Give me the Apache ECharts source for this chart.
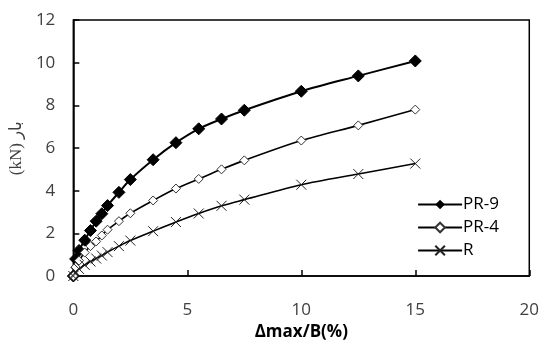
<!DOCTYPE html>
<html>
<head>
<meta charset="utf-8">
<script src="https://cdn.jsdelivr.net/npm/echarts@6/dist/echarts.min.js"></script>
<style>html,body{margin:0;padding:0;background:#fff;}#c{width:542px;height:347px;}</style>
</head>
<body>
<div id="c"></div>
<script>
var xValues = [0, 0.1, 0.25, 0.5, 0.75, 1, 1.25, 1.5, 2, 2.5, 3.5, 4.5, 5.5, 6.5, 7.5, 10, 12.5, 15];
var pr9 = [0, 0.8, 1.2, 1.68, 2.13, 2.57, 2.92, 3.3, 3.92, 4.52, 5.45, 6.25, 6.9, 7.36, 7.77, 8.66, 9.38, 10.08];
var pr4 = [0, 0.42, 0.72, 1.1, 1.4, 1.62, 1.9, 2.17, 2.57, 2.94, 3.54, 4.1, 4.55, 5.0, 5.42, 6.35, 7.06, 7.8];
var rr  = [0, 0.18, 0.33, 0.52, 0.68, 0.82, 0.96, 1.12, 1.4, 1.66, 2.1, 2.53, 2.93, 3.29, 3.58, 4.28, 4.78, 5.27];
var seriesNames = ['PR-9', 'PR-4', 'R'];
var xTicks = [0, 5, 10, 15, 20];
var yTicks = [0, 2, 4, 6, 8, 10, 12];

function pairs(ys) { return xValues.map(function (x, i) { return [x, ys[i]]; }); }

var chart = echarts.init(document.getElementById('c'), null, {renderer: 'canvas'});
var labelFont = {fontFamily: 'Open Sans', fontSize: 17, color: '#404040'};
chart.setOption({
  animation: false,
  grid: {left: 67, right: 11, top: 20, bottom: 71, show: true, borderColor: '#000', borderWidth: 1.5, backgroundColor: 'transparent'},
  legend: {
    right: 38, top: 191, orient: 'vertical', itemWidth: 44, itemHeight: 12, itemGap: 6,
    textStyle: {fontFamily: 'Open Sans', fontSize: 17, color: '#000', padding: [0, 0, 0, -4]},
    data: seriesNames
  },
  xAxis: {
    type: 'value', min: xTicks[0], max: xTicks[xTicks.length - 1], interval: 5,
    name: 'Δmax/B(%)', nameLocation: 'middle', nameGap: 45,
    nameTextStyle: {fontFamily: 'Open Sans', fontSize: 17, fontWeight: 'bold', color: '#000'},
    axisLine: {show: true, lineStyle: {color: '#000', width: 1.5}},
    axisTick: {show: true, inside: true, length: 6, lineStyle: {color: '#000', width: 1.5}},
    axisLabel: Object.assign({margin: 26}, labelFont),
    splitLine: {show: false}
  },
  yAxis: {
    type: 'value', min: yTicks[0], max: yTicks[yTicks.length - 1], interval: 2,
    name: '(kN) بار', nameLocation: 'middle', nameGap: 38, nameRotate: 90,
    nameTextStyle: {fontFamily: 'Liberation Serif', fontSize: 17, color: '#404040'},
    axisLine: {show: true, lineStyle: {color: '#000', width: 1.5}},
    axisTick: {show: true, inside: true, length: 6, lineStyle: {color: '#000', width: 1.5}},
    axisLabel: Object.assign({margin: 18}, labelFont),
    splitLine: {show: false}
  },
  series: [
    {name: seriesNames[0], type: 'line', data: pairs(pr9), smooth: 0.3, symbol: 'diamond', symbolSize: 12,
     lineStyle: {color: '#000', width: 2}, itemStyle: {color: '#000', borderColor: '#000'}},
    {name: seriesNames[1], type: 'line', data: pairs(pr4), smooth: 0.3, symbol: 'diamond', symbolSize: 9,
     lineStyle: {color: '#000', width: 1.6}, itemStyle: {color: '#fff', borderColor: '#333', borderWidth: 1}},
    {name: seriesNames[2], type: 'line', data: pairs(rr), smooth: 0.3, symbol: 'path://M0,0L10,10M10,0L0,10', symbolSize: 10,
     lineStyle: {color: '#000', width: 1.6}, itemStyle: {color: 'none', borderColor: '#222', borderWidth: 1}}
  ]
});
</script>
</body>
</html>
